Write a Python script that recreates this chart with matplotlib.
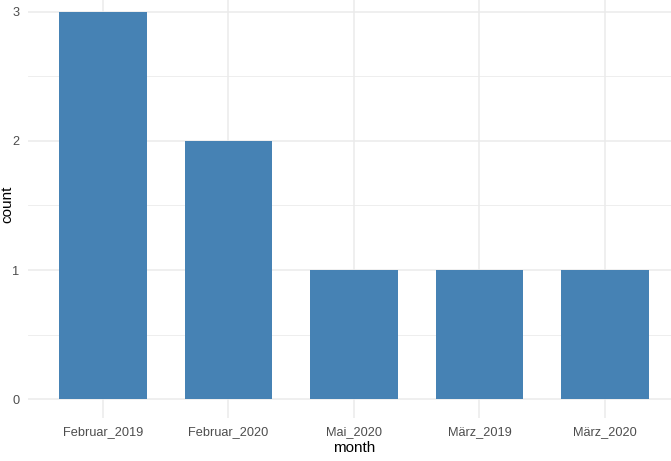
import matplotlib
matplotlib.use("Agg")
import matplotlib.pyplot as plt

months = ["Februar_2019", "Februar_2020", "Mai_2020", "März_2019", "März_2020"]
counts = [3, 2, 1, 1, 1]

plt.rcParams['font.family'] = ['Liberation Sans', 'DejaVu Sans']

W, H = 671, 461
fig = plt.figure(figsize=(W/100, H/100), dpi=100)
left, right = 27.7, 680.3
bottom, top = 418.4, -7.4
ax = fig.add_axes([left/W, (H-bottom)/H, (right-left)/W, (bottom-top)/H])

x = list(range(1, len(months)+1))
ax.bar(x, counts, width=0.7, color="#4682B4", zorder=3)
ax.set_xlim(0.4, len(months)+0.6)
ax.set_ylim(-0.15, 3.15)
ax.set_xticks(x)
ax.set_xticklabels(months)
ax.set_yticks([0, 1, 2, 3])
ax.set_yticks([0.5, 1.5, 2.5], minor=True)
ax.grid(True, which='major', color='#EBEBEB', linewidth=1.1, zorder=0)
ax.grid(True, which='minor', axis='y', color='#EBEBEB', linewidth=0.6, zorder=0)
for s in ax.spines.values():
    s.set_visible(False)
ax.tick_params(axis='both', which='both', length=0, labelsize=9.2, colors='#4D4D4D')
ax.tick_params(axis='x', pad=5.5)
ax.tick_params(axis='y', pad=6)
ax.set_facecolor('white')
fig.text(354/W, 1 - 448/H, "month", fontsize=11, color='black', ha='center', va='center')
fig.text(7/W, 1 - 204/H, "count", fontsize=11, color='black', ha='center', va='center', rotation=90)
fig.savefig("out.png", dpi=100, facecolor='white')
